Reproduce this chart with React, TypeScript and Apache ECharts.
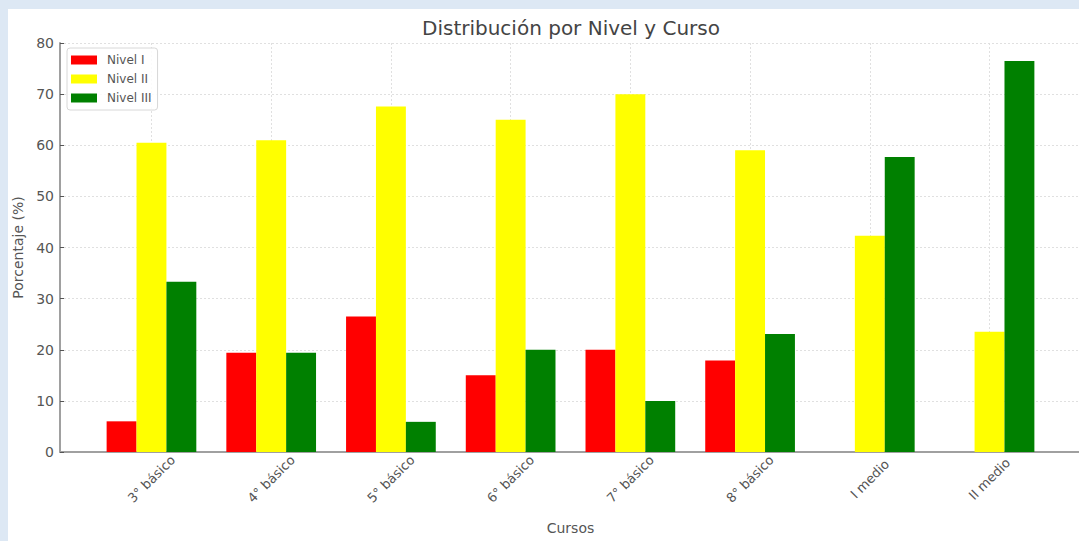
import React, { useEffect, useRef } from "react";
import * as echarts from "echarts";

const cursos = ["3° básico", "4° básico", "5° básico", "6° básico", "7° básico", "8° básico", "I medio", "II medio"];
const nivelI = [6, 19.4, 26.5, 15, 20, 17.9, 0, 0];
const nivelII = [60.5, 61, 67.6, 65, 70, 59, 42.3, 23.5];
const nivelIII = [33.3, 19.4, 5.9, 20, 10, 23.1, 57.7, 76.5];
const yTicks = [0, 10, 20, 30, 40, 50, 60, 70, 80];

const FONT = "DejaVu Sans";

export default function App() {
  const ref = useRef<HTMLDivElement>(null);
  useEffect(() => {
    if (!ref.current) return;
    const chart = echarts.init(ref.current, null, { renderer: "svg" });
    const idx = cursos.map((_, i) => i);
    const mk = (name: string, vals: number[], color: string) => ({
      name,
      type: "bar",
      data: vals.map((v, i) => [i, v]),
      barWidth: 29.9,
      barGap: "0%",
      itemStyle: { color },
      emphasis: { disabled: true },
    });
    chart.setOption({
      animation: false,
      title: {
        text: "Distribución por Nivel y Curso",
        left: 566,
        textAlign: "center",
        top: 13,
        textStyle: { fontFamily: FONT, fontSize: 20, fontWeight: "normal", color: "#444" },
      },
      legend: {
        orient: "vertical",
        left: 67,
        top: 48,
        padding: [6, 6, 6, 4],
        itemWidth: 26,
        itemHeight: 9,
        itemGap: 7,
        icon: "rect",
        borderColor: "#d8d8d8",
        borderWidth: 1,
        borderRadius: 3,
        backgroundColor: "rgba(255,255,255,0.85)",
        textStyle: { fontFamily: FONT, fontSize: 12, color: "#555", padding: [0, 0, 0, 5] },
        data: ["Nivel I", "Nivel II", "Nivel III"],
      },
      grid: { left: 60, top: 43, width: 1021, height: 409, outerBoundsMode: "none", containLabel: false },
      xAxis: {
        type: "value",
        min: -0.764,
        max: 7.764,
        name: "Cursos",
        nameLocation: "middle",
        nameGap: 69,
        nameTextStyle: { fontFamily: FONT, fontSize: 14, color: "#555" },
        axisLine: { show: true, onZero: false, lineStyle: { color: "#a0a0a0", width: 2 } },
        axisTick: { show: true, inside: true, length: 4, customValues: idx, lineStyle: { color: "#555" } },
        axisLabel: {
          customValues: idx,
          rotate: 45,
          align: "center",
          verticalAlign: "middle",
          fontFamily: FONT,
          fontSize: 13,
          color: "#555",
          margin: 27,
          formatter: (v: number) => cursos[Math.round(v)] ?? "",
        },
        splitLine: { show: true, lineStyle: { color: "#e0e0e0", type: [2, 2], width: 1 } },
      },
      yAxis: {
        type: "value",
        min: 0,
        max: 80,
        interval: 10,
        name: "Porcentaje (%)",
        nameLocation: "middle",
        nameGap: 25,
        nameTextStyle: { fontFamily: FONT, fontSize: 14, color: "#555" },
        axisLine: { show: true, onZero: false, lineStyle: { color: "#a0a0a0", width: 2 } },
        axisTick: { show: true, inside: true, length: 4, lineStyle: { color: "#555" } },
        axisLabel: {
          fontFamily: FONT,
          fontSize: 14,
          color: "#555",
          margin: 6,
          formatter: (v: number) => (yTicks.includes(v) ? String(v) : ""),
        },
        splitLine: { show: true, lineStyle: { color: "#e0e0e0", type: [2, 2], width: 1 } },
      },
      series: [
        mk("Nivel I", nivelI, "#ff0000"),
        mk("Nivel II", nivelII, "#ffff00"),
        mk("Nivel III", nivelIII, "#008000"),
      ],
    });
    return () => chart.dispose();
  }, []);
  return (
    <div style={{ position: "fixed", left: 0, top: 0, width: 1079, height: 541, background: "#dde8f4", overflow: "hidden" }}>
      <div style={{ position: "absolute", left: 8, top: 9, right: 0, bottom: 0, background: "#ffffff" }} />
      <div ref={ref} style={{ position: "absolute", left: 0, top: 0, width: 1079, height: 541 }} />
    </div>
  );
}
